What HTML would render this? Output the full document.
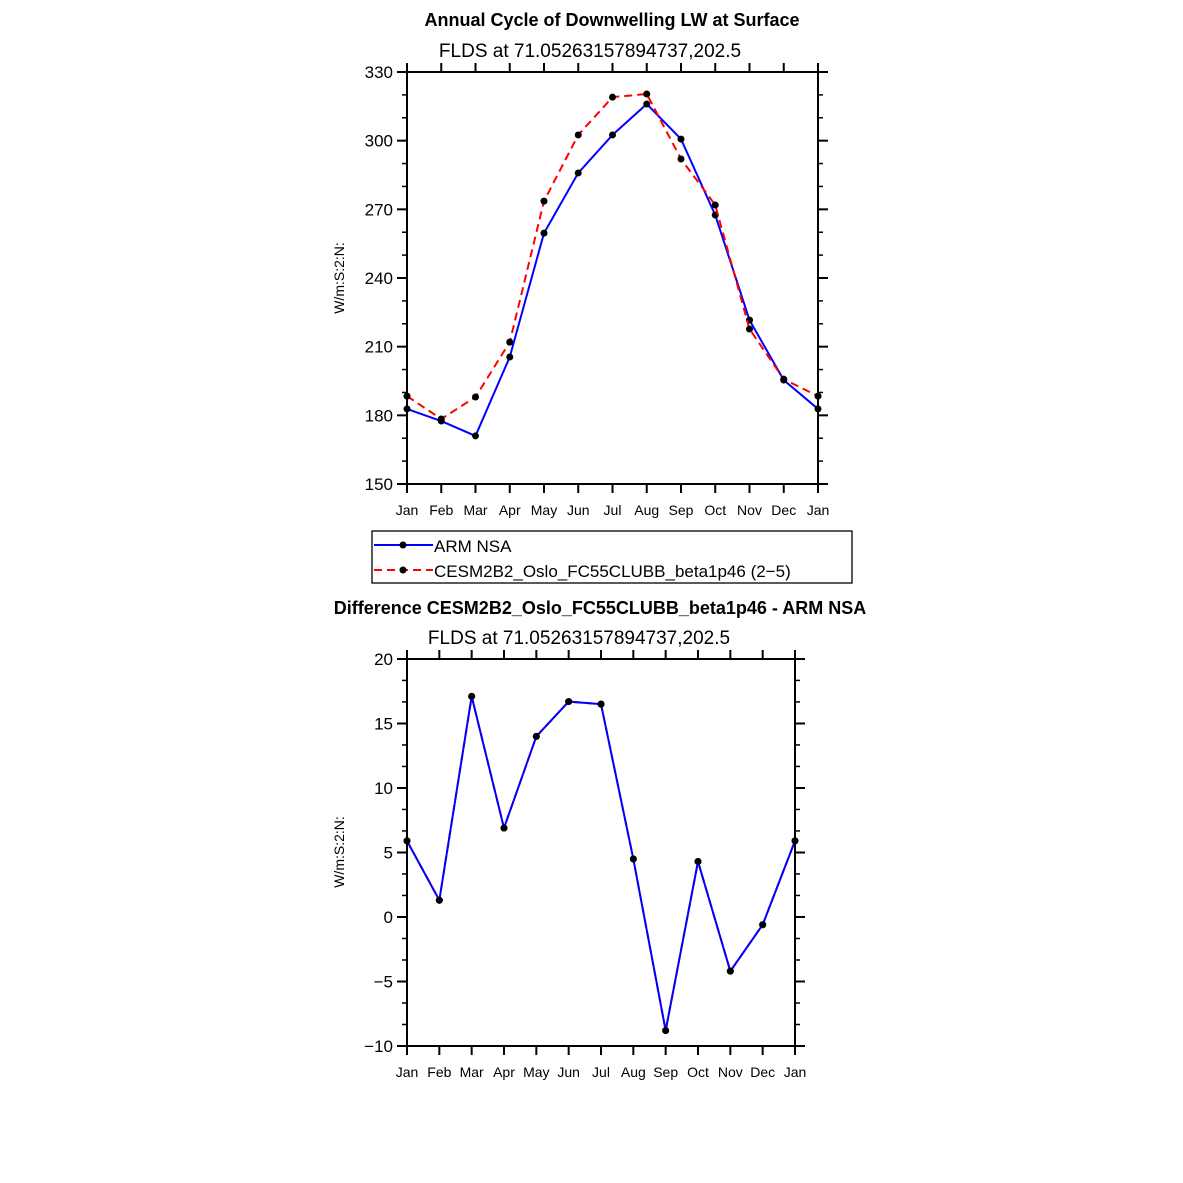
<!DOCTYPE html>
<html><head><meta charset="utf-8"><style>body{margin:0;background:#fff}svg{display:block}text{font-family:"Liberation Sans",sans-serif}</style></head>
<body>
<svg id="svg" width="1183" height="1183" xmlns="http://www.w3.org/2000/svg">
<rect width="1183" height="1183" fill="#fff"/>
<text x="612" y="26" text-anchor="middle" font-size="18" font-weight="bold">Annual Cycle of Downwelling LW at Surface</text>
<text x="590" y="57" text-anchor="middle" font-size="19">FLDS  at  71.05263157894737,202.5</text>
<text transform="translate(344,278) rotate(-90)" text-anchor="middle" font-size="14">W/m:S:2:N:</text>
<text x="600" y="614" text-anchor="middle" font-size="18" font-weight="bold">Difference CESM2B2_Oslo_FC55CLUBB_beta1p46 - ARM NSA</text>
<text x="579" y="644" text-anchor="middle" font-size="19">FLDS  at  71.05263157894737,202.5</text>
<text transform="translate(344,852) rotate(-90)" text-anchor="middle" font-size="14">W/m:S:2:N:</text>
<g>
<rect x="372" y="531" width="480" height="52" fill="none" stroke="#000" stroke-width="1.3"/>
<line x1="374" y1="545" x2="433" y2="545" stroke="#00f" stroke-width="2"/><circle cx="403" cy="545" r="3.5"/>
<text x="434" y="552" font-size="17">ARM  NSA</text>
<line x1="374" y1="570" x2="433" y2="570" stroke="#f00" stroke-width="2" stroke-dasharray="8,5"/><circle cx="403" cy="570" r="3.5"/>
<text x="434" y="577" font-size="17">CESM2B2_Oslo_FC55CLUBB_beta1p46 (2−5)</text>
</g>
<g id="top"></g><g id="bot"></g>
</svg>
<script>
const months=["Jan","Feb","Mar","Apr","May","Jun","Jul","Aug","Sep","Oct","Nov","Dec","Jan"];
const armValues=[182.8,177.5,171,205.5,259.6,285.9,302.5,316,300.7,267.5,221.6,195.4,182.8];
const cesmValues=[188.4,178.4,188,212,273.6,302.5,319,320.4,292,271.9,217.7,195.8,188.4];
const diffValues=[5.9,1.3,17.1,6.9,14,16.7,16.5,4.5,-8.8,4.3,-4.2,-0.6,5.9];
const topYTicks=[150,180,210,240,270,300,330];
const botYTicks=["−10","−5","0","5","10","15","20"];
const botYVals=[-10,-5,0,5,10,15,20];
const NS="http://www.w3.org/2000/svg";
function mk(p,t,a){const e=document.createElementNS(NS,t);for(const k in a)e.setAttribute(k,a[k]);p.appendChild(e);return e;}
function panel(g,x0,x1,y0,y1,ymin,ymax,yt,ytl,minorStep,xfs,series){
  const X=i=>x0+(x1-x0)*i/12, Y=v=>y1-(v-ymin)/(ymax-ymin)*(y1-y0);
  const fr=mk(g,'rect',{x:x0,y:y0,width:x1-x0,height:y1-y0,fill:'none',stroke:'#000','stroke-width':2});
  
  
  for(let i=0;i<=12;i++){const x=X(i);
    mk(g,'line',{x1:x,y1:y1,x2:x,y2:y1+9,stroke:'#000','stroke-width':2});
    mk(g,'line',{x1:x,y1:y0,x2:x,y2:y0-9,stroke:'#000','stroke-width':2});
    const t=mk(g,'text',{x:x,y:y1+31,'text-anchor':'middle','font-size':xfs});t.textContent=months[i];
    
    }
  for(let v=ymin;v<=ymax+1e-9;v+=minorStep){const y=Y(v);
    mk(g,'line',{x1:x0,y1:y,x2:x0-5,y2:y,stroke:'#000','stroke-width':1.5});
    mk(g,'line',{x1:x1,y1:y,x2:x1+5,y2:y,stroke:'#000','stroke-width':1.5});}
  yt.forEach((v,i)=>{const y=Y(v);
    mk(g,'line',{x1:x0,y1:y,x2:x0-10,y2:y,stroke:'#000','stroke-width':2});
    mk(g,'line',{x1:x1,y1:y,x2:x1+10,y2:y,stroke:'#000','stroke-width':2});
    const t=mk(g,'text',{x:x0-14,y:y+6,'text-anchor':'end','font-size':17});t.textContent=ytl[i];
    
    });
  series.forEach(s=>{
    const pl=mk(g,'polyline',{points:s.v.map((v,i)=>X(i)+','+Y(v)).join(' '),fill:'none',stroke:s.c,'stroke-width':2,'stroke-dasharray':s.d||'none'});
    
    
    s.v.forEach((v,i)=>{const c=mk(g,'circle',{cx:X(i),cy:Y(v),r:3.5,fill:'#000'});
      
      });
  });
}
panel(document.getElementById('top'),407,818,72,484,150,330,topYTicks,topYTicks.map(String),10,14,
  [{v:armValues,c:'#00f',n:'arm-nsa'},{v:cesmValues,c:'#f00',d:'8,5',n:'cesm'}]);
panel(document.getElementById('bot'),407,795,659,1046,-10,20,botYVals,botYTicks,1.667,14,
  [{v:diffValues,c:'#f00',d:'8,5',n:'diff-red'},{v:diffValues,c:'#00f',n:'diff'}]);
</script>
</body></html>
